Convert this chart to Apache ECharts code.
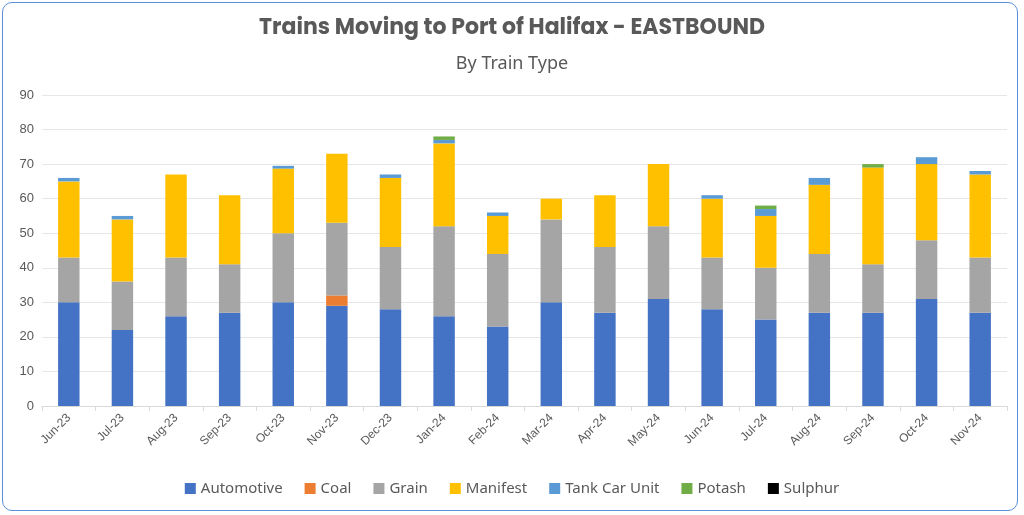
<!DOCTYPE html><html><head><meta charset="utf-8"><script src="https://cdn.jsdelivr.net/npm/echarts@6/dist/echarts.min.js"></script>
<style>html,body{margin:0;padding:0;background:#fff}#wrap{position:absolute;left:2px;top:2px;width:1016px;height:509px;border:1.5px solid #5b8fd9;border-radius:10px;box-sizing:border-box}#c{width:1024px;height:515px;position:absolute;left:0;top:0}</style></head><body><div id="wrap"></div><div id="c"></div><script>
const categories=["Jun-23","Jul-23","Aug-23","Sep-23","Oct-23","Nov-23","Dec-23","Jan-24","Feb-24","Mar-24","Apr-24","May-24","Jun-24","Jul-24","Aug-24","Sep-24","Oct-24","Nov-24"];
const automotive=[30,22,26,27,30,29,28,26,23,30,27,31,28,25,27,27,31,27];
const coal=[0,0,0,0,0,3,0,0,0,0,0,0,0,0,0,0,0,0];
const grain=[13,14,17,14,20,21,18,26,21,24,19,21,15,15,17,14,17,16];
const manifest=[22,18,24,20,18.7,20,20,24,11,6,15,18,17,15,20,28,22,24];
const tankCar=[1,1,0,0,0.8,0,1,1,1,0,0,0,1,2,2,0,2,1];
const potash=[0,0,0,0,0,0,0,1,0,0,0,0,0,1,0,1,0,0];
const sulphur=[0,0,0,0,0,0,0,0,0,0,0,0,0,0,0,0,0,0];
const names=["Automotive","Coal","Grain","Manifest","Tank Car Unit","Potash","Sulphur"];
const colors=["#4472c4","#ed7d31","#a5a5a5","#ffc000","#5b9bd5","#70ad47","#000000"];
const data=[automotive,coal,grain,manifest,tankCar,potash,sulphur];
const ch=echarts.init(document.getElementById('c'));
ch.setOption({
 title:[{text:"Trains Moving to Port of Halifax - EASTBOUND",left:'center',top:12,textStyle:{fontFamily:'Poppins, "Noto Sans", sans-serif',fontWeight:'bold',fontSize:22,color:'#595959'}},
  {text:"By Train Type",left:'center',top:50,textStyle:{fontFamily:'"Noto Sans", sans-serif',fontWeight:'normal',fontSize:18,color:'#595959'}}],
 legend:{bottom:14,itemWidth:11,itemHeight:11,itemGap:22,icon:'rect',textStyle:{fontSize:15,color:'#595959',fontFamily:'"Noto Sans", sans-serif'}},
 grid:{left:42,right:17,top:95,bottom:109,containLabel:false},
 xAxis:{type:'category',data:categories,axisTick:{show:true,alignWithLabel:false,lineStyle:{color:'#d9d9d9'}},axisLine:{lineStyle:{color:'#d9d9d9'}},axisLabel:{rotate:45,color:'#595959',fontSize:12,margin:10}},
 yAxis:{type:'value',min:0,max:90,interval:10,axisLabel:{color:'#595959',fontSize:13},splitLine:{lineStyle:{color:'#e6e6e6'}}},
 series:names.map((n,i)=>({name:n,type:'bar',stack:'s',barWidth:'40%',data:data[i],itemStyle:{color:colors[i]}}))
});
</script></body></html>
